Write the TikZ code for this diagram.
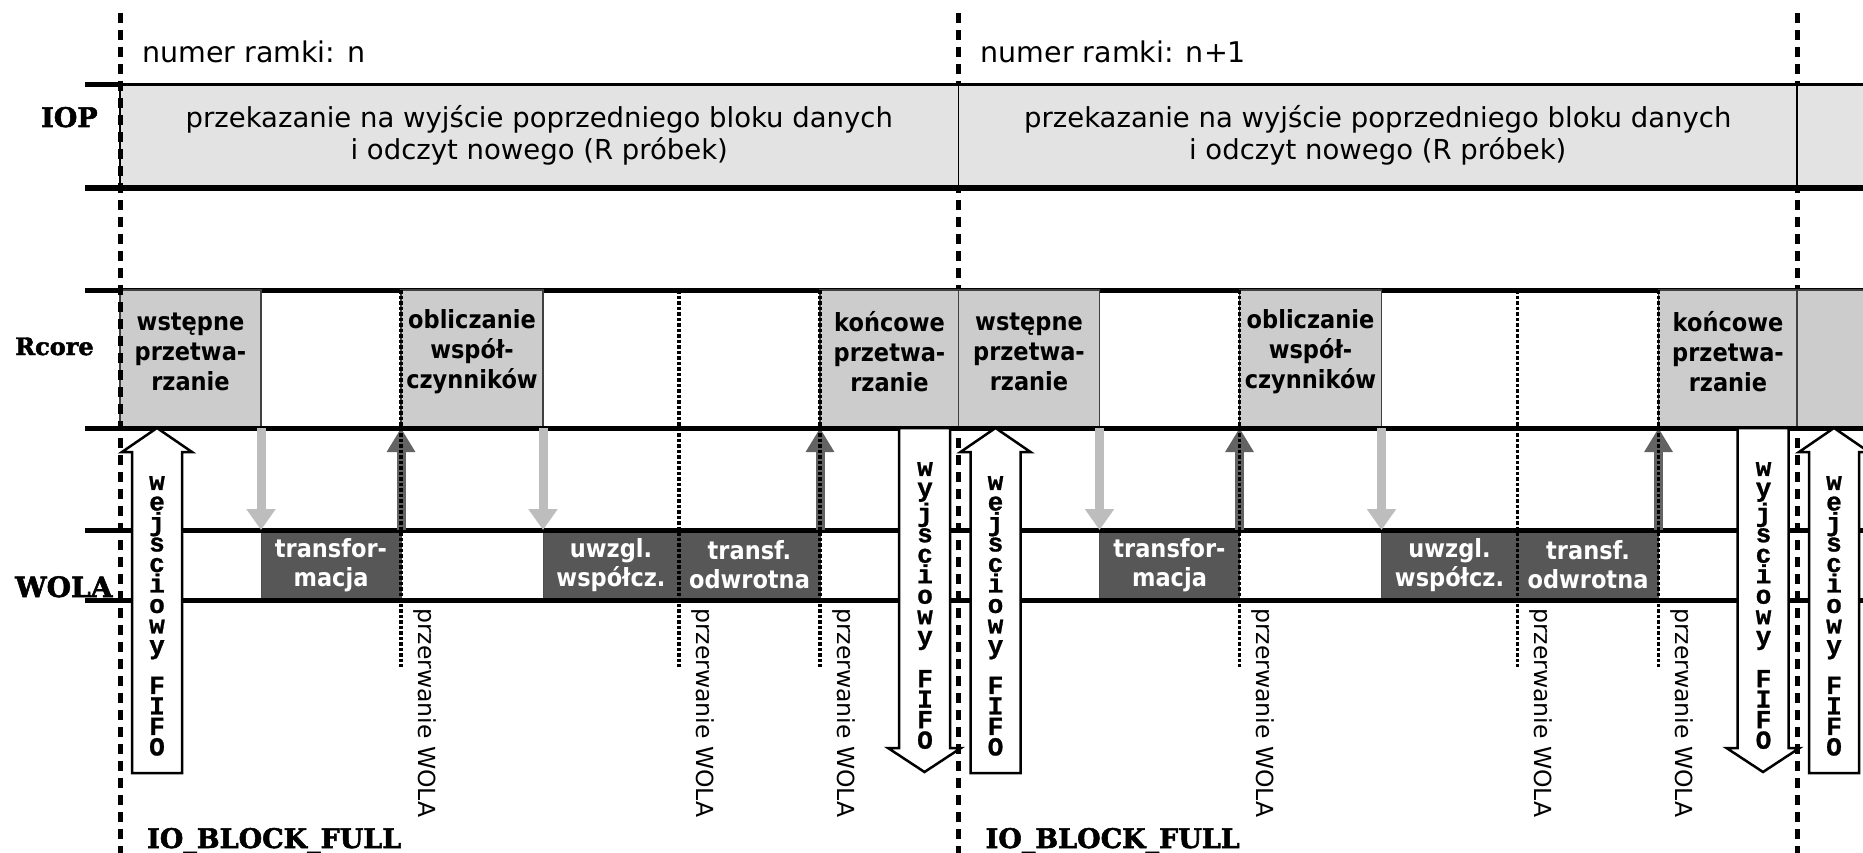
\documentclass[tikz,border=0pt]{standalone}
\usepackage{fontspec}
\setmainfont{DejaVu Sans}
\newfontfamily\condfont{DejaVu Sans}[FakeStretch=0.9]
\newfontfamily\slabfont{DejaVu Serif}[FakeBold=2]
\newfontfamily\fifomono{Liberation Mono}[FakeBold=1]
\usetikzlibrary{arrows.meta}

\definecolor{iopgray}{HTML}{E3E3E3}
\definecolor{coregray}{HTML}{CCCCCC}
\definecolor{wolagray}{HTML}{575757}
\definecolor{downgray}{HTML}{BDBDBD}
\definecolor{upgray}{HTML}{636363}

\begin{document}
\begin{tikzpicture}[x=1pt,y=-1pt,
  framesep/.style={line width=5pt, dash pattern=on 10pt off 7pt},
  rowline/.style={line width=5pt},
  iopbox/.style={draw=black, line width=1.5pt, fill=iopgray, anchor=north west,
    inner sep=0pt, outer sep=0pt, minimum height=103pt},
  corebox/.style={draw=black!75, line width=1.2pt, fill=coregray, anchor=north west,
    inner sep=0pt, outer sep=0pt, minimum height=138pt},
  wolabox/.style={draw=black!70, line width=1pt, fill=wolagray, anchor=north west,
    inner sep=0pt, outer sep=0pt, minimum height=70pt, text=white, align=center,
    font=\condfont\bfseries\fontsize{25}{29}\selectfont},
  coretext/.style={font=\condfont\bfseries\fontsize{25}{30}\selectfont, align=center, inner sep=0pt},
  ioptext/.style={font=\fontsize{27.5}{32}\selectfont, align=center, inner sep=0pt},
  framelabel/.style={font=\fontsize{28.5}{32}\selectfont, anchor=base west, inner sep=0pt},
  rowlabel/.style={font=\slabfont\bfseries, anchor=base west, inner sep=0pt},
  eventlabel/.style={font=\slabfont\bfseries\fontsize{27}{30}\selectfont, anchor=base west, inner sep=0pt},
  intlabel/.style={font=\fontsize{23.5}{28}\selectfont, rotate=-90, anchor=base west, inner sep=0pt},
  intr/.style={line width=3.5pt, dash pattern=on 3.5pt off 2pt},
  downarr/.style={draw=downgray, line width=9pt, -{Triangle[width=28pt,length=21pt]}},
  uparr/.style={draw=upgray, line width=9pt, -{Triangle[width=27pt,length=24pt]}},
  fifo/.style={draw=black, line width=2.5pt, fill=white, line join=miter},
  fifotext/.style={font=\fifomono\bfseries\fontsize{26}{20.5}\selectfont, align=center,
    inner sep=0pt, anchor=north}
]
\useasboundingbox (0,0) rectangle (1863,853);
\clip (0,0) rectangle (1863,853);
\fill[white] (0,0) rectangle (1863,853);

% frame boundaries of frames n+1 and n+2 (hidden behind the row boxes)
\coordinate (fb1t) at (958.5,13);
\coordinate (fb1b) at (958.5,853);
\coordinate (fb2t) at (1797,13);
\coordinate (fb2b) at (1797,853);
\draw[framesep] (fb1t) -- (fb1b);
\draw[framesep] (fb2t) -- (fb2b);

% upper edge of the Rcore row, partly covered by the boxes
\draw[rowline] (85,290) -- (1863,290);

% two complete frames
\foreach \f/\nlab in {0/n,1/n+1}{
  \begin{scope}[shift={(120+\f*838.5,0)}]
    \node[iopbox, minimum width=838.5pt] (iop\f) at (0,85) {};
    \node[ioptext] (iopt\f) at (419.25,135.5)
      {przekazanie na wyjście poprzedniego bloku danych\\i odczyt nowego (R próbek)};
    \node[framelabel] (nr\f) at (22,63) {numer ramki: \nlab};

    \node[corebox, minimum width=141pt] (wst\f) at (0,290) {};
    \node[corebox, minimum width=142pt] (obl\f) at (281,290) {};
    \node[corebox, minimum width=138.5pt] (kon\f) at (700,290) {};
    \node[coretext] (wstt\f) at (70.5,352) {wstępne\\przetwa-\\rzanie};
    \node[coretext] (oblt\f) at (352,352) {obliczanie\\współ-\\czynników};
    \node[coretext] (kont\f) at (769.5,352) {końcowe\\przetwa-\\rzanie};

    \node[wolabox, minimum width=140pt] (tr\f) at (141,530) {transfor-\\macja};
    \node[wolabox, minimum width=136pt] (uw\f) at (423,530) {uwzgl.\\współcz.};
    \node[wolabox, minimum width=141pt] (od\f) at (559,530) {transf.\\odwrotna};

    \coordinate (ia\f) at (281,667);
    \coordinate (ibt\f) at (559,290);
    \coordinate (ib\f) at (559,667);
    \coordinate (ic\f) at (700,667);
  \end{scope}
}

% beginning of frame n+2
\node[iopbox, minimum width=120pt] (iop2) at (1797,85) {};
\node[corebox, minimum width=120pt] (wst2) at (1797,290) {};

% row edges
\draw[rowline] (85,85) -- (120,85);
\draw[line width=3pt] (120,85) -- (1863,85);
\draw[line width=6pt] (85,188) -- (1863,188);
\draw[rowline] (85,428) -- (1863,428);
\draw[rowline] (85,530) -- (1863,530);
\draw[rowline] (85,600) -- (1863,600);

% data hand-over between Rcore and WOLA, interrupts
\foreach \f in {0,1}{
  \draw[downarr] (wst\f.south east) -- (tr\f.north west);
  \draw[uparr] (tr\f.north east) -- (obl\f.south west);
  \draw[downarr] (obl\f.south east) -- (uw\f.north west);
  \draw[uparr] (od\f.north east) -- (kon\f.south west);
  \draw[intr] (obl\f.north west) -- (ia\f);
  \draw[intr] (ibt\f) -- (ib\f);
  \draw[intr] (kon\f.north west) -- (ic\f);
  \begin{scope}[shift={(120+\f*838.5,0)}]
    \node[intlabel] (pa\f) at (298,608) {przerwanie WOLA};
    \node[intlabel] (pb\f) at (576,608) {przerwanie WOLA};
    \node[intlabel] (pc\f) at (717,608) {przerwanie WOLA};
  \end{scope}
}

% input and output FIFO
\foreach \f in {0,1,2}{
  \begin{scope}[shift={(120+\f*838.5,0)}]
    \draw[fifo] (2,452) -- (37,428) -- (72,452) -- (62,452) -- (62,773)
      -- (12,773) -- (12,452) -- cycle;
    \node[fifotext] (fin\f) at (37,476)
      {w\\e\\j\\s\\c\\i\\o\\w\\y\\[16.5pt]F\\I\\F\\O};
  \end{scope}
}
\foreach \f in {0,1}{
  \begin{scope}[shift={(120+\f*838.5,0)}]
    \draw[fifo] (779,428) -- (830,428) -- (830,748) -- (841,748) -- (804.5,772)
      -- (768,748) -- (779,748) -- cycle;
    \node[fifotext] (fout\f) at (805,462)
      {w\\y\\j\\s\\c\\i\\o\\w\\y\\[19pt]F\\I\\F\\O};
  \end{scope}
}

% start of frame n
\coordinate (fb0t) at (120,13);
\coordinate (fb0b) at (120,853);
\draw[framesep] (fb0t) -- (fb0b);

% row names
\node[rowlabel, font=\slabfont\bfseries\fontsize{27}{30}\selectfont] (liop) at (41,127) {IOP};
\node[rowlabel, font=\slabfont\bfseries\fontsize{24}{28}\selectfont] (lcore) at (15,355) {Rcore};
\node[rowlabel, font=\slabfont\bfseries\fontsize{28}{30}\selectfont] (lwola) at (15,597) {WOLA};

% events
\node[eventlabel] (ev0) at (147,848) {IO\_BLOCK\_FULL};
\node[eventlabel] (ev1) at (985.5,848) {IO\_BLOCK\_FULL};
\end{tikzpicture}
\end{document}
